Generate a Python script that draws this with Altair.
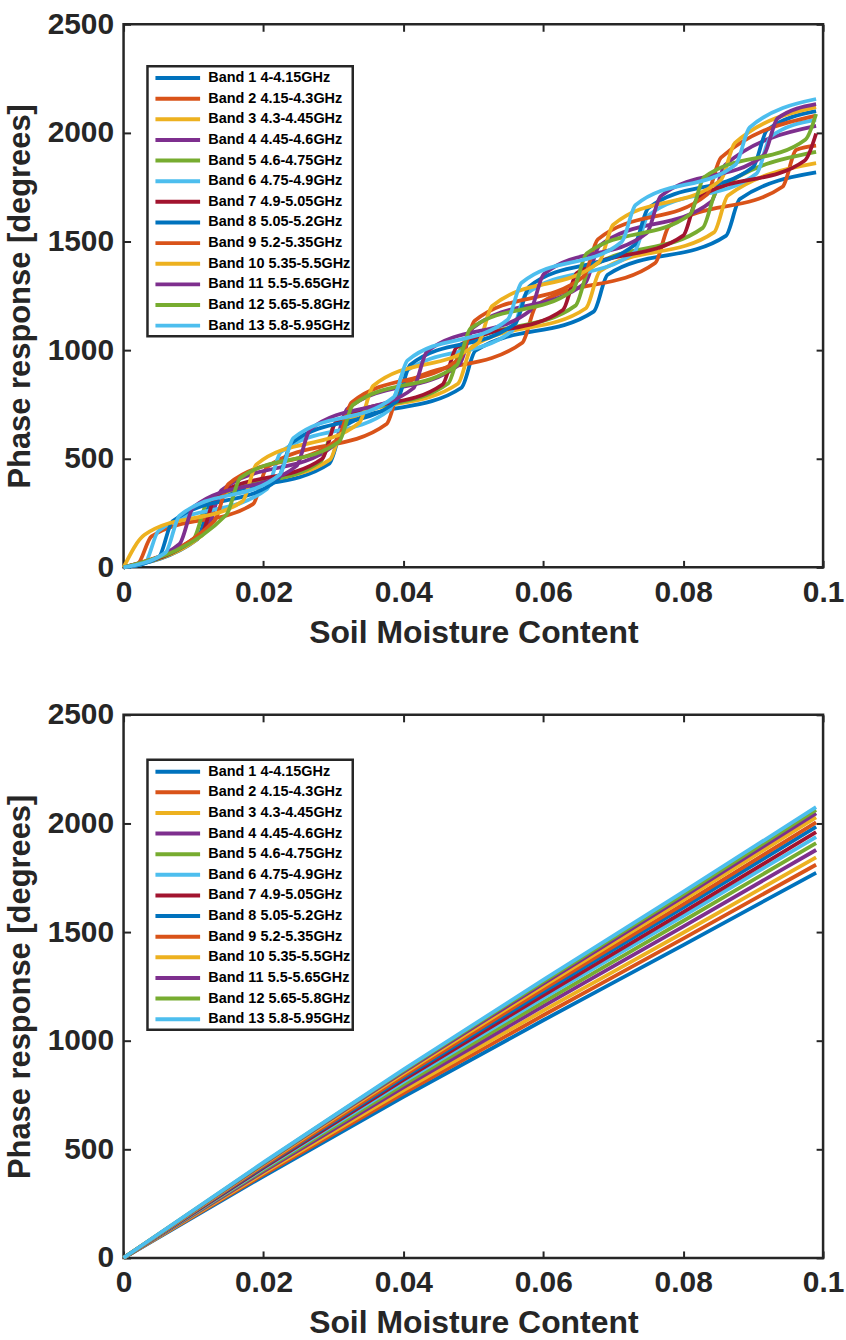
import altair as alt
import pandas as pd

BANDS = ["Band 1 4-4.15GHz", "Band 2 4.15-4.3GHz", "Band 3 4.3-4.45GHz", "Band 4 4.45-4.6GHz",
         "Band 5 4.6-4.75GHz", "Band 6 4.75-4.9GHz", "Band 7 4.9-5.05GHz", "Band 8 5.05-5.2GHz",
         "Band 9 5.2-5.35GHz", "Band 10 5.35-5.5GHz", "Band 11 5.5-5.65GHz", "Band 12 5.65-5.8GHz",
         "Band 13 5.8-5.95GHz"]
COLORS = ["#0072BD", "#D95319", "#EDB120", "#7E2F8E", "#77AC30", "#4DBEEE", "#A2142F",
          "#0072BD", "#D95319", "#EDB120", "#7E2F8E", "#77AC30", "#4DBEEE"]
X_TICKS = [0, 0.02, 0.04, 0.06, 0.08, 0.1]
Y_TICKS = [0, 500, 1000, 1500, 2000, 2500]

# ---- top panel: stepped phase response (x = soil moisture, y = degrees) ----
TOP_X = [
    [0, 0.0105, 0.0125, 0.0294, 0.0314, 0.0483, 0.0503, 0.0672, 0.0692, 0.0861, 0.0881, 0.099],
    [0, 0.0020, 0.0040, 0.0185, 0.0205, 0.0376, 0.0396, 0.0570, 0.0590, 0.0760, 0.0780, 0.0942, 0.0962, 0.099],
    [0, 0.0112, 0.0132, 0.0295, 0.0315, 0.0478, 0.0498, 0.0661, 0.0681, 0.0844, 0.0864, 0.099],
    [0, 0.0120, 0.0140, 0.0300, 0.0320, 0.0480, 0.0500, 0.0660, 0.0680, 0.0840, 0.0860, 0.099],
    [0, 0.0100, 0.0120, 0.0282, 0.0302, 0.0464, 0.0484, 0.0646, 0.0666, 0.0828, 0.0848, 0.099],
    [0, 0.0030, 0.0050, 0.0205, 0.0225, 0.0380, 0.0400, 0.0555, 0.0575, 0.0730, 0.0750, 0.0905, 0.0925, 0.099],
    [0, 0.0112, 0.0132, 0.0284, 0.0304, 0.0456, 0.0476, 0.0628, 0.0648, 0.0800, 0.0820, 0.0974, 0.099],
    [0, 0.0050, 0.0070, 0.0220, 0.0240, 0.0390, 0.0410, 0.0560, 0.0580, 0.0730, 0.0750, 0.0900, 0.0920, 0.099],
    [0, 0.0130, 0.0150, 0.0306, 0.0326, 0.0482, 0.0502, 0.0658, 0.0678, 0.0834, 0.0854, 0.099],
    [0, 0.0030, 0.0170, 0.0190, 0.0337, 0.0357, 0.0507, 0.0527, 0.0680, 0.0700, 0.0854, 0.0874, 0.099],
    [0, 0.0080, 0.0100, 0.0247, 0.0267, 0.0414, 0.0434, 0.0581, 0.0601, 0.0748, 0.0768, 0.0915, 0.0935, 0.099],
    [0, 0.0147, 0.0167, 0.0308, 0.0328, 0.0476, 0.0496, 0.0642, 0.0662, 0.0810, 0.0830, 0.0975, 0.099],
    [0, 0.0060, 0.0080, 0.0223, 0.0243, 0.0386, 0.0406, 0.0549, 0.0569, 0.0712, 0.0732, 0.0875, 0.0895, 0.099],
]
TOP_Y = [
    [0, 128, 298, 477, 647, 827, 997, 1177, 1347, 1526, 1696, 1818],
    [0, 15, 143, 291, 461, 660, 830, 1034, 1204, 1401, 1571, 1752, 1922, 1941],
    [0, 147, 317, 496, 666, 845, 1015, 1193, 1363, 1542, 1712, 1861],
    [0, 185, 355, 560, 730, 934, 1104, 1309, 1479, 1683, 1853, 2032],
    [0, 131, 301, 489, 659, 847, 1017, 1205, 1375, 1563, 1733, 1913],
    [0, 18, 168, 361, 531, 724, 894, 1087, 1257, 1450, 1620, 1813, 1983, 2061],
    [0, 158, 328, 500, 670, 842, 1012, 1185, 1355, 1527, 1697, 1873, 1997],
    [0, 45, 212, 402, 572, 763, 933, 1123, 1293, 1483, 1653, 1843, 2013, 2100],
    [0, 214, 384, 589, 759, 965, 1135, 1340, 1510, 1716, 1886, 2080],
    [0, 150, 304, 474, 666, 836, 1033, 1203, 1407, 1577, 1784, 1954, 2119],
    [0, 108, 278, 466, 636, 824, 994, 1181, 1351, 1539, 1709, 1897, 2067, 2132],
    [0, 242, 412, 578, 748, 929, 1099, 1275, 1445, 1626, 1796, 1970, 2087],
    [0, 68, 238, 426, 596, 783, 953, 1140, 1310, 1498, 1668, 1855, 2025, 2156],
]

# ---- bottom panel: smooth phase response ----
BOT_X = [0, 0.02, 0.04, 0.06, 0.08, 0.099]
BOT_Y = [
    [0, 376, 741, 1094, 1440, 1773],
    [0, 384, 757, 1117, 1470, 1810],
    [0, 391, 771, 1138, 1497, 1844],
    [0, 398, 785, 1159, 1525, 1878],
    [0, 405, 798, 1178, 1551, 1910],
    [0, 411, 810, 1196, 1574, 1938],
    [0, 416, 819, 1209, 1592, 1960],
    [0, 421, 830, 1225, 1612, 1985],
    [0, 425, 838, 1237, 1628, 2005],
    [0, 430, 848, 1251, 1647, 2028],
    [0, 434, 856, 1263, 1662, 2047],
    [0, 437, 862, 1272, 1674, 2062],
    [0, 440, 867, 1280, 1685, 2075],
]

FONT = "Liberation Sans"
INK = "#262626"

rows_top, rows_bot = [], []
for i, band in enumerate(BANDS):
    for j, (x, y) in enumerate(zip(TOP_X[i], TOP_Y[i])):
        rows_top.append({"band": band, "x": x, "y": y, "k": j})
    for j, (x, y) in enumerate(zip(BOT_X, BOT_Y[i])):
        rows_bot.append({"band": band, "x": x, "y": y, "k": j})
df_top = pd.DataFrame(rows_top)
df_bot = pd.DataFrame(rows_bot)

x_scale = alt.Scale(domain=[0, 0.1], nice=False, zero=False)
y_scale = alt.Scale(domain=[0, 2500], nice=False)


def panel(df, legend_y):
    legend = alt.Legend(
        orient="none", legendX=24, legendY=legend_y, title=None,
        symbolType="M-0.5,0H5.1", symbolSize=256, symbolStrokeWidth=4,
        labelFont=FONT, labelFontSize=14.5, labelFontWeight="bold", labelColor="#000000",
        labelOffset=39, padding=2, rowPadding=2.7, strokeColor=INK, fillColor="white",
        labelLimit=400,
    )
    lines = alt.Chart(df).mark_line(strokeWidth=3.8, interpolate="monotone").encode(
        x=alt.X("x:Q", scale=x_scale, axis=alt.Axis(
            orient="bottom", values=X_TICKS, format="~g", offset=-7, tickSize=7, tickWidth=2,
            tickColor=INK, domain=False, grid=False, labelFlush=False, labelOverlap=False,
            labelFont=FONT, labelFontSize=30, labelFontWeight="bold", labelColor=INK,
            labelPadding=10, title="Soil Moisture Content", titleFont=FONT, titleFontSize=32,
            titleFontWeight="bold", titleColor=INK, titlePadding=10)),
        y=alt.Y("y:Q", scale=y_scale, axis=alt.Axis(
            orient="left", values=Y_TICKS, format="d", offset=-7, tickSize=7, tickWidth=2,
            tickColor=INK, domain=False, grid=False, labelOverlap=False,
            labelFont=FONT, labelFontSize=30, labelFontWeight="bold", labelColor=INK,
            labelPadding=10, title="Phase response [degrees]", titleFont=FONT, titleFontSize=31,
            titleFontWeight="bold", titleColor=INK, titlePadding=11)),
        color=alt.Color("band:N", scale=alt.Scale(domain=BANDS, range=COLORS),
                        sort=BANDS, legend=legend),
        order=alt.Order("k:Q"),
    )
    frame_axes = alt.Chart(df).mark_point(opacity=0, size=1).encode(
        x=alt.X("x:Q", scale=x_scale, axis=alt.Axis(
            orient="top", values=X_TICKS, offset=-7, tickSize=7, tickWidth=2, tickColor=INK,
            domain=False, grid=False, labels=False, title=None)),
        y=alt.Y("y:Q", scale=y_scale, axis=alt.Axis(
            orient="right", values=Y_TICKS, offset=-7, tickSize=7, tickWidth=2, tickColor=INK,
            domain=False, grid=False, labels=False, title=None)),
    )
    return alt.layer(lines, frame_axes).resolve_axis(x="independent", y="independent").properties(
        width=702, height=545)


top = panel(df_top, 42)
bottom = panel(df_bot, 45)

chart = alt.vconcat(top, bottom, spacing=48).resolve_scale(color="independent").resolve_legend(
    color="independent").properties(
    padding={"left": 3, "top": 5, "right": 0, "bottom": 0}, background="white"
).configure_view(stroke=INK, strokeWidth=2.5).configure_legend(strokeWidth=2.5)

chart.save("out.html", embed_options={"renderer": "svg", "actions": False})
